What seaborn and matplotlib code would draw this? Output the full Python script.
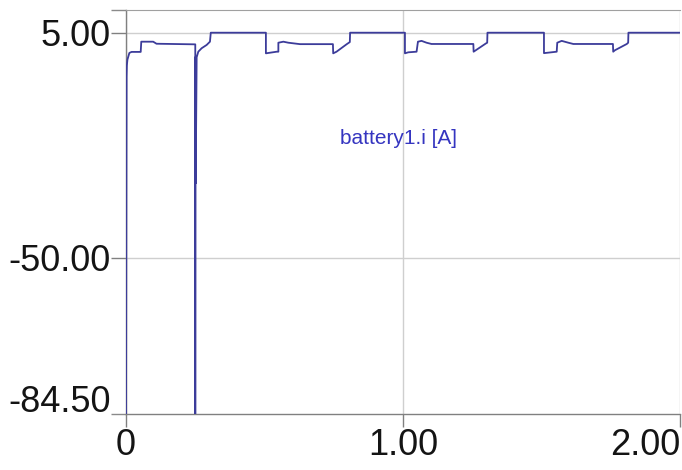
import numpy as np
import pandas as pd
import matplotlib
matplotlib.use("Agg")
import matplotlib.pyplot as plt
import seaborn as sns

# battery current trace (time, current in A)
time_s = [0.0, 0.002, 0.003, 0.005, 0.012, 0.02, 0.053, 0.055, 0.098, 0.11, 0.25,
          0.25, 0.2503, 0.2506, 0.2509, 0.2512, 0.2515, 0.255, 0.261, 0.273, 0.291, 0.303, 0.306,
          0.505, 0.505, 0.544, 0.55, 0.55, 0.568, 0.586, 0.604, 0.628,
          0.747, 0.748, 0.76, 0.797, 0.808, 0.809,
          1.007, 1.007, 1.019, 1.049, 1.054, 1.067, 1.085, 1.103,
          1.254, 1.255, 1.300, 1.304, 1.305,
          1.509, 1.509, 1.555, 1.557, 1.573, 1.597, 1.615,
          1.758, 1.759, 1.765, 1.808, 1.813, 1.814, 2.0]
current_a = [-88.3, -5.8, -3.0, -1.6, 0.05, 0.3, 0.3, 2.8, 2.8, 2.3, 2.15,
             -88.3, -31.8, -1.0, -31.8, -1.0, -31.8, -1.0, 0.36, 1.2, 2.0, 2.8, 5.0,
             5.0, -0.05, 0.35, 0.35, 2.55, 2.8, 2.55, 2.4, 2.2,
             2.2, -0.05, 0.35, 2.2, 2.7, 5.0,
             5.0, -0.05, 0.2, 0.35, 2.8, 3.0, 2.55, 2.24,
             2.24, 0.35, 2.4, 2.55, 5.0,
             5.0, 0.0, 0.35, 2.55, 3.0, 2.55, 2.24,
             2.24, 0.35, 0.7, 2.24, 2.55, 5.0, 5.0]

y_ticks = [5.0, -50.0, -84.5]
y_labels = ["5.00", "-50.00", "-84.50"]
x_ticks = [0.0, 1.0, 2.0]
x_labels = ["0", "1.00", "2.00"]
series_name = "battery1.i [A]"

df = pd.DataFrame({"time": time_s, "current": current_a})

sns.set_style("white")
plt.rcParams["font.family"] = ["Liberation Sans", "DejaVu Sans"]

fig = plt.figure(figsize=(6.82, 4.70), dpi=100)
ax = fig.add_axes([0.1848, 0.119, 0.8122, 0.8597])

sns.lineplot(data=df, x="time", y="current", sort=False, estimator=None,
             color="#3c3c9a", linewidth=1.3, ax=ax, zorder=3)

ax.set_xlim(0, 2.0)
ax.set_ylim(-88.3, 10.55)
ax.set_xlabel("")
ax.set_ylabel("")

ax.set_yticks(y_ticks)
ax.set_yticklabels(y_labels)
ax.set_xticks(x_ticks)
ax.set_xticklabels(x_labels)
# small marks at the top and bottom edges of the frame
ax.set_yticks([-88.3, 10.55], minor=True)

ax.grid(True, color="#cfcfcf", linewidth=1.0)
ax.tick_params(axis="y", which="major", direction="out", length=11, width=1.0,
               color="#808080", pad=0, labelsize=26, labelcolor="#141414", left=True)
ax.tick_params(axis="y", which="minor", direction="out", length=11, width=1.0,
               color="#8a8a8a", left=True)
ax.tick_params(axis="x", direction="out", length=9, width=1.0, color="#808080",
               pad=1, labelsize=26, labelcolor="#141414", bottom=True)

# no mark or grid line for the lowest label
last = ax.yaxis.get_major_ticks()[2]
last.tick1line.set_visible(False)
last.gridline.set_visible(False)

# last x label sits against the right edge
ax.get_xticklabels()[-1].set_horizontalalignment("right")

for side in ["left", "bottom"]:
    ax.spines[side].set_color("#808080")
    ax.spines[side].set_linewidth(1.0)
ax.spines["top"].set_color("#a0a0a0")
ax.spines["right"].set_visible(False)

ax.text(0.982, -20.8, series_name, color="#3535c0", fontsize=15,
        ha="center", va="center")

fig.savefig("out.png", dpi=100)
